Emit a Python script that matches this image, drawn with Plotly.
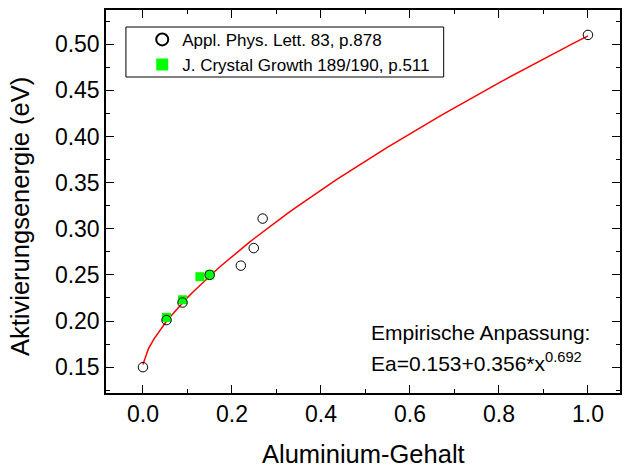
import numpy as np
import plotly.graph_objects as go

# Applied Physics Letters 83, p.878
apl_x = [0.0, 0.053, 0.089, 0.150, 0.220, 0.249, 0.269, 1.0]
apl_y = [0.150, 0.201, 0.220, 0.250, 0.260, 0.279, 0.311, 0.510]

# J. Crystal Growth 189/190, p.511
jcg_x = [0.053, 0.089, 0.128, 0.150]
jcg_y = [0.204, 0.223, 0.248, 0.250]

# empirical fit Ea = a + b * x^c
fit_a, fit_b, fit_c = 0.153, 0.356, 0.692
fit_x = np.linspace(0.0, 1.0, 81)
fit_y = fit_a + fit_b * fit_x ** fit_c

FONT = "Arial"

fig = go.Figure()
fig.add_trace(go.Scatter(
    x=fit_x, y=fit_y, mode="lines",
    line=dict(color="#ff0000", width=1.5),
    showlegend=False, hoverinfo="skip"))
fig.add_trace(go.Scatter(
    x=jcg_x, y=jcg_y, mode="markers", name="J. Crystal Growth 189/190, p.511",
    marker=dict(symbol="square", size=9, color="#00ff00", line=dict(width=0)),
    legendrank=2))
fig.add_trace(go.Scatter(
    x=apl_x, y=apl_y, mode="markers", name="Appl. Phys. Lett. 83, p.878",
    marker=dict(symbol="circle-open", size=9.5, color="black", line=dict(width=1)),
    legendrank=1))

axis_common = dict(
    showline=True, linecolor="black", linewidth=1.5, mirror="allticks",
    ticks="inside", ticklen=8, tickwidth=1.2, tickcolor="black",
    showgrid=False, zeroline=False,
    tickfont=dict(family=FONT, size=23, color="black"),
)

fig.update_xaxes(
    range=[-0.083, 1.072], tick0=0, dtick=0.2, tickformat=".1f",
    minor=dict(ticks="inside", ticklen=4, tickwidth=1, tickcolor="black", dtick=0.1, showgrid=False),
    **axis_common)
fig.update_yaxes(
    range=[0.122, 0.537], tick0=0.15, dtick=0.05, tickformat=".2f",
    minor=dict(ticks="inside", ticklen=4, tickwidth=1, tickcolor="black", dtick=0.025, showgrid=False),
    **axis_common)

# axis titles
fig.add_annotation(
    xref="paper", yref="paper", x=0.5, y=-0.16, xanchor="center", yanchor="middle",
    text="Aluminium-Gehalt", showarrow=False,
    font=dict(family=FONT, size=25.5, color="black"))
fig.add_annotation(
    xref="paper", yref="paper", x=-0.167, y=0.46, xanchor="center", yanchor="middle",
    text="Aktivierungsenergie (eV)", showarrow=False, textangle=-90,
    font=dict(family=FONT, size=25.5, color="black"))

# fit formula
fig.add_annotation(
    xref="paper", yref="paper", x=0.511, y=0.157, xanchor="left", yanchor="middle",
    text="Empirische Anpassung:", showarrow=False, align="left",
    font=dict(family=FONT, size=21, color="black"))
fig.add_annotation(
    xref="paper", yref="paper", x=0.511, y=0.08, xanchor="left", yanchor="middle",
    text=f"Ea={fit_a}+{fit_b}*x<sup>{fit_c}</sup>", showarrow=False, align="left",
    font=dict(family=FONT, size=21, color="black"))

# legend frame
fig.add_shape(
    type="rect", xref="paper", yref="paper",
    x0=(126 - 106) / 516, x1=(445 - 106) / 516,
    y0=(393 - 77) / 383, y1=(393 - 27) / 383,
    line=dict(color="black", width=1), fillcolor="white", layer="below")

fig.update_layout(
    width=624, height=470,
    margin=dict(l=106, r=2, t=10, b=77),
    paper_bgcolor="white", plot_bgcolor="rgba(0,0,0,0)",
    font=dict(family=FONT, color="black"),
    legend=dict(
        x=0.0705, y=0.969, xanchor="left", yanchor="top",
        borderwidth=0, bgcolor="rgba(0,0,0,0)",
        font=dict(family=FONT, size=17, color="black"),
        tracegroupgap=0, itemsizing="constant", itemwidth=30),
)

fig.write_html("out.html")
